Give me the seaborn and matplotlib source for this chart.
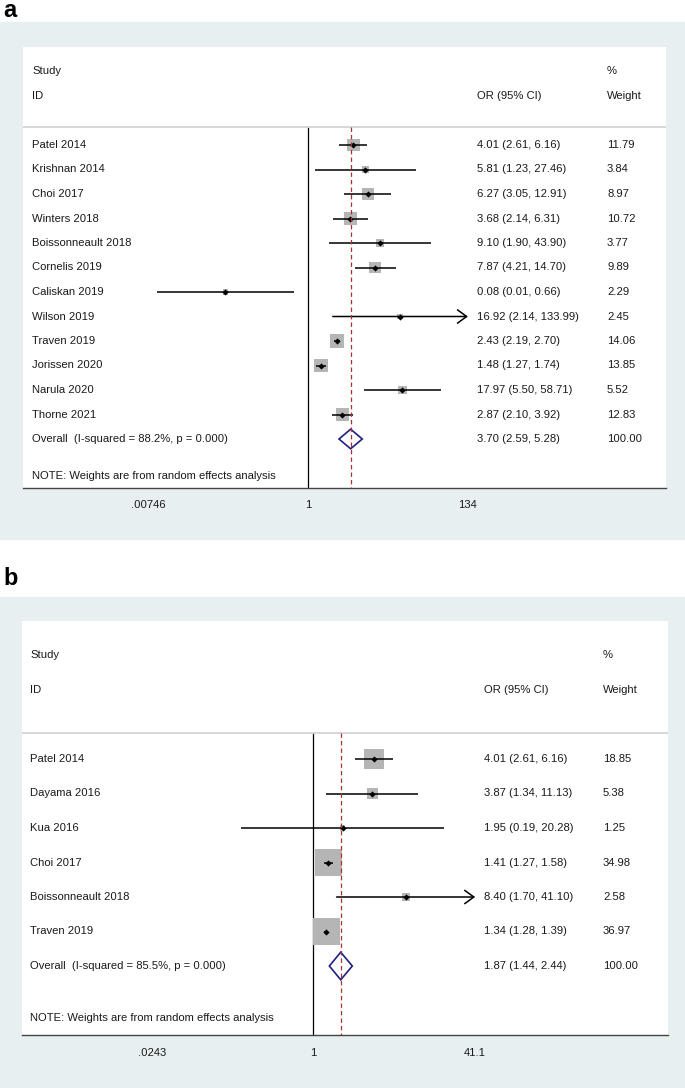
import matplotlib

matplotlib.use("Agg")
import matplotlib.patches as mpatches
import matplotlib.pyplot as plt
import matplotlib.transforms as mtransforms
import numpy as np
import pandas as pd
import seaborn as sns

# ---- panel a data
a_studies = [
    "Patel 2014", "Krishnan 2014", "Choi 2017", "Winters 2018",
    "Boissonneault 2018", "Cornelis 2019", "Caliskan 2019", "Wilson 2019",
    "Traven 2019", "Jorissen 2020", "Narula 2020", "Thorne 2021",
]
a_or = [4.01, 5.81, 6.27, 3.68, 9.10, 7.87, 0.08, 16.92, 2.43, 1.48, 17.97, 2.87]
a_lo = [2.61, 1.23, 3.05, 2.14, 1.90, 4.21, 0.01, 2.14, 2.19, 1.27, 5.50, 2.10]
a_hi = [6.16, 27.46, 12.91, 6.31, 43.90, 14.70, 0.66, 133.99, 2.70, 1.74, 58.71, 3.92]
a_weight = [11.79, 3.84, 8.97, 10.72, 3.77, 9.89, 2.29, 2.45, 14.06, 13.85, 5.52, 12.83]
a_overall = [3.70, 2.59, 5.28]
a_overall_label = "Overall  (I-squared = 88.2%, p = 0.000)"
a_ticks = [0.00746, 1, 134]
a_ticklabels = [".00746", "1", "134"]

# ---- panel b data
b_studies = [
    "Patel 2014", "Dayama 2016", "Kua 2016", "Choi 2017",
    "Boissonneault 2018", "Traven 2019",
]
b_or = [4.01, 3.87, 1.95, 1.41, 8.40, 1.34]
b_lo = [2.61, 1.34, 0.19, 1.27, 1.70, 1.28]
b_hi = [6.16, 11.13, 20.28, 1.58, 41.10, 1.39]
b_weight = [18.85, 5.38, 1.25, 34.98, 2.58, 36.97]
b_overall = [1.87, 1.44, 2.44]
b_overall_label = "Overall  (I-squared = 85.5%, p = 0.000)"
b_ticks = [0.0243, 1, 41.1]
b_ticklabels = [".0243", "1", "41.1"]

W, H = 685, 1088
BG = "#e8eff1"
BOX = "#b5b5b5"
NAVY = "#1f1f80"
RED = "#a83232"
TXT = "#1a1a1a"
FS = 8.1


def fx(px):
    return px / W


def fy(py):
    return 1 - py / H


def draw_panel(fig, letter, letter_base, bg_top, bg_bot, box, xlim, cols,
               studies, ors, los, his, weights, overall, overall_label,
               ticks, ticklabels, k2):
    left, top, right, bottom = box
    # светло-голубая подложка панели (под осями)
    fig.patches.append(
        mpatches.Rectangle((0, fy(bg_bot)), 1, (bg_bot - bg_top) / H,
                           transform=fig.transFigure, color=BG, zorder=-5)
    )
    fig.text(fx(3), fy(letter_base), letter, fontsize=17, fontweight="bold",
             va="baseline", ha="left", color="black")

    ax = fig.add_axes([fx(left), fy(bottom), (right - left) / W, (bottom - top) / H])
    ax.set_zorder(1)
    ax.set_facecolor("white")
    ax.set_xscale("log")

    n = len(studies)
    df = pd.DataFrame({"or": ors, "lo": los, "hi": his,
                       "weight": weights, "row": np.arange(n)})

    # weight boxes (area ~ weight)
    wmin, wmax = df["weight"].min(), df["weight"].max()
    sns.scatterplot(data=df, x="or", y="row", size="weight",
                    sizes=(k2 * wmin, k2 * wmax), marker="s", color=BOX,
                    linewidth=0, legend=False, ax=ax, zorder=2)

    # confidence intervals, arrow when clipped at axis end
    for _, r in df.iterrows():
        if r["hi"] >= 0.99 * ticks[-1]:
            ax.annotate("", xy=(r["hi"], r["row"]), xytext=(r["lo"], r["row"]),
                        arrowprops=dict(arrowstyle="->,head_length=0.55,head_width=0.4",
                                        color="black", lw=1.1, shrinkA=0, shrinkB=0),
                        zorder=3)
        else:
            ax.hlines(r["row"], r["lo"], r["hi"], color="black", lw=1.1, zorder=3)

    sns.scatterplot(data=df, x="or", y="row", marker="D", color="black",
                    s=10, linewidth=0, legend=False, ax=ax, zorder=4)

    # overall diamond
    est, olo, ohi = overall
    ax.add_patch(mpatches.Polygon(
        [(olo, n), (est, n - 0.4), (ohi, n), (est, n + 0.4)],
        closed=True, facecolor="white", edgecolor=NAVY, lw=1.2, zorder=3))

    # reference lines
    ax.plot([1, 1], [-0.75, n + 2], color="black", lw=0.9, zorder=1)
    ax.plot([est, est], [-0.75, n + 2], color=RED, lw=0.9,
            ls=(0, (3.5, 2.5)), zorder=4)
    ax.axhline(-0.75, color="#d4d4d4", lw=1.3, zorder=1)

    ax.set_xlim(*xlim)
    ax.set_ylim(n + 2, -4)
    ax.set_yticks([])
    ax.set_xticks(ticks)
    ax.set_xticklabels(ticklabels)
    ax.xaxis.set_minor_locator(matplotlib.ticker.NullLocator())
    ax.tick_params(axis="x", direction="out", length=4, width=0.9, pad=5,
                   labelsize=FS, colors=TXT)
    ax.tick_params(axis="x", color="#444444")
    for s in ["top", "left", "right"]:
        ax.spines[s].set_visible(False)
    ax.spines["bottom"].set_color("#444444")
    ax.spines["bottom"].set_linewidth(1.0)
    ax.set_xlabel("")
    ax.set_ylabel("")

    # text columns
    trans = mtransforms.blended_transform_factory(ax.transAxes, ax.transData)
    c_id, c_or, c_w = [(c - left) / (right - left) for c in cols]
    kw = dict(transform=trans, va="center", ha="left", fontsize=FS, color=TXT)
    ax.text(c_id, -3, "Study", **kw)
    ax.text(c_id, -2, "ID", **kw)
    ax.text(c_or, -2, "OR (95% CI)", **kw)
    ax.text(c_w, -3, "%", **kw)
    ax.text(c_w, -2, "Weight", **kw)
    for i in range(n):
        ax.text(c_id, i, studies[i], **kw)
        ax.text(c_or, i, f"{ors[i]:.2f} ({los[i]:.2f}, {his[i]:.2f})", **kw)
        ax.text(c_w, i, f"{weights[i]:.2f}", **kw)
    ax.text(c_id, n, overall_label, **kw)
    ax.text(c_or, n, f"{est:.2f} ({olo:.2f}, {ohi:.2f})", **kw)
    ax.text(c_w, n, "100.00", **kw)
    ax.text(c_id, n + 1.5, "NOTE: Weights are from random effects analysis", **kw)
    return ax


def main():
    sns.set_theme(style="white")
    plt.rcParams["font.family"] = ["Liberation Sans", "DejaVu Sans"]

    fig = plt.figure(figsize=(W / 100, H / 100), dpi=100)
    fig.patch.set_facecolor("white")

    draw_panel(fig, "a", 17, 22, 539, (23, 47, 666, 488),
               (1.634e-4, 5.75e4), (32, 477, 607),
               a_studies, a_or, a_lo, a_hi, a_weight, a_overall, a_overall_label,
               a_ticks, a_ticklabels, k2=7.3)
    draw_panel(fig, "b", 585, 597, 1088, (22, 621, 668, 1035),
               (1.23e-3, 3.46e3), (30, 484, 603),
               b_studies, b_or, b_lo, b_hi, b_weight, b_overall, b_overall_label,
               b_ticks, b_ticklabels, k2=10.5)

    fig.savefig("out.png", dpi=100)
    plt.close(fig)


if __name__ == "__main__":
    main()
